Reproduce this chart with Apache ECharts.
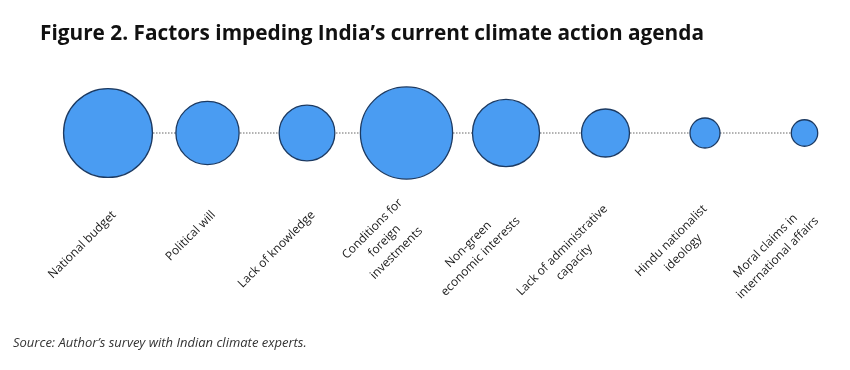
<!DOCTYPE html>
<html><head><meta charset="utf-8">
<script src="https://cdn.jsdelivr.net/npm/echarts@6/dist/echarts.min.js"></script>
<style>html,body{margin:0;padding:0;background:#fff}#c{width:850px;height:370px}</style>
</head><body><div id="c"></div>
<script>
const categories = [
  'National budget',
  'Political will',
  'Lack of knowledge',
  'Conditions for\nforeign\ninvestments',
  'Non-green\neconomic interests',
  'Lack of administrative\ncapacity',
  'Hindu nationalist\nideology',
  'Moral claims in\ninternational affairs'
];
// relative weight of each factor (bubble area)
const importance = [79, 40, 31, 85, 45, 23, 9, 7];
const titleText = 'Figure 2. Factors impeding India\u2019s current climate action agenda';
const sourceText = 'Source: Author\u2019s survey with Indian climate experts.';

const chart = echarts.init(document.getElementById('c'), null, {renderer: 'canvas'});
const FONT = '"Open Sans", "Noto Sans", sans-serif';
chart.setOption({
  animation: false,
  backgroundColor: '#fff',
  title: [
    {text: titleText, left: 40, top: 24, padding: 0,
     textStyle: {fontFamily: FONT, fontSize: 20.8, fontWeight: 'bold', color: '#111'}},
    {text: sourceText, left: 13, top: 337, padding: 0,
     textStyle: {fontFamily: FONT, fontSize: 13, fontStyle: 'italic', fontWeight: 'normal', color: '#333'}}
  ],
  grid: [
    {left: 108, right: 45.5, top: 88, height: 90},
    {left: 114, right: 39.5, top: 88, height: 90}
  ],
  xAxis: [
    {gridIndex: 0, type: 'category', data: categories, boundaryGap: false,
     axisLine: {show: false}, axisTick: {show: false}, axisLabel: {show: false}, splitLine: {show: false}},
    {gridIndex: 1, type: 'category', data: categories, boundaryGap: false,
     axisLine: {show: false}, axisTick: {show: false}, splitLine: {show: false},
     axisLabel: {
       show: true, interval: 0, rotate: 45, margin: 35,
       fontFamily: FONT, fontSize: 12, color: '#1a1a1a',
       formatter: v => v.split('\n').map(s => '{c|' + s + '}').join('\n'),
       rich: {c: {align: 'center', lineHeight: 17, fontFamily: FONT, fontSize: 12, fontWeight: 500, color: '#1a1a1a'}}
     }}
  ],
  yAxis: [
    {gridIndex: 0, type: 'value', min: -1, max: 1, show: false},
    {gridIndex: 1, type: 'value', min: -1, max: 1, show: false}
  ],
  series: [
    {type: 'line', xAxisIndex: 0, yAxisIndex: 0, data: categories.map(() => 0),
     symbol: 'none', silent: true, z: 1,
     lineStyle: {type: [1.5, 1.5], color: '#666', width: 1}},
    {type: 'scatter', xAxisIndex: 0, yAxisIndex: 0, clip: false, z: 2,
     data: importance.map((v, i) => [i, 0, v]),
     symbolSize: d => Math.sqrt(d[2]) * 10,
     itemStyle: {color: '#4a9cf2', borderColor: '#1c3a62', borderWidth: 1.3, opacity: 1}}
  ]
});
</script></body></html>
